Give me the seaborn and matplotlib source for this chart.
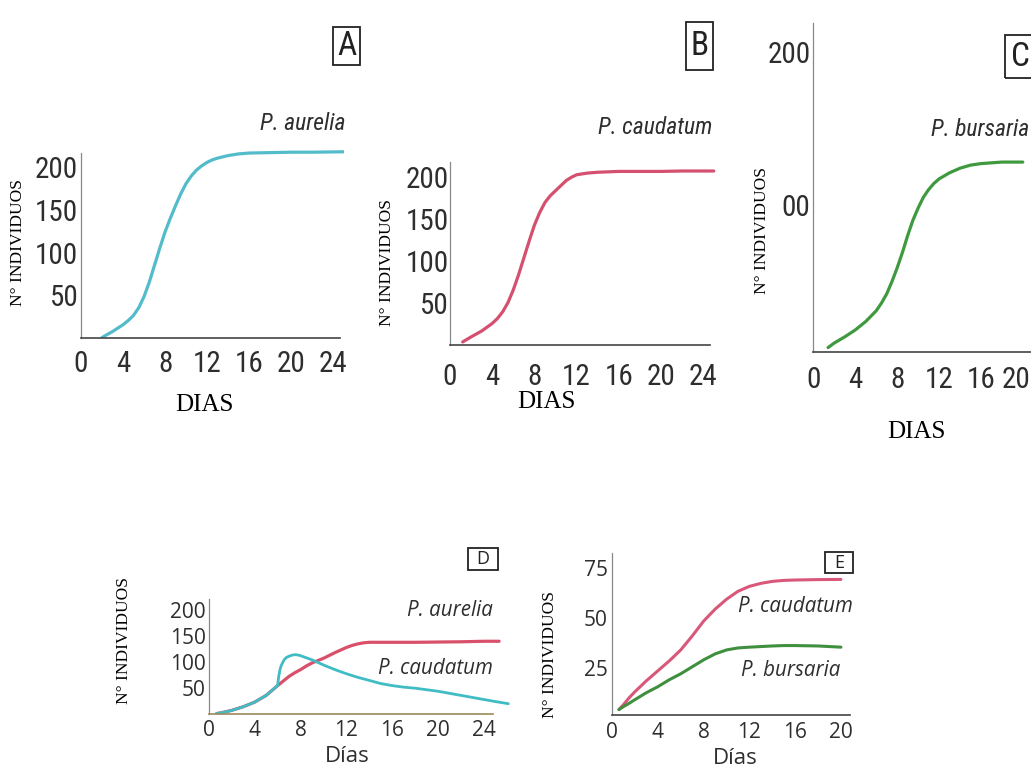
import matplotlib
matplotlib.use("Agg")
import matplotlib.pyplot as plt
from matplotlib import font_manager as fm
from matplotlib.patches import Rectangle
from matplotlib.transforms import offset_copy
import seaborn as sns

W, H = 1031, 771

# A: P. aurelia sola
dias_a = [2, 3, 4, 4.5, 5, 5.5, 6, 6.5, 7, 7.5, 8, 8.5, 9, 9.5, 10, 10.5, 11, 11.5, 12, 12.5, 13, 14, 15,
          16, 18, 20, 22, 25]
aurelia_a = [0, 7, 15, 20, 26, 35, 48, 65, 85, 105, 124, 140, 155, 169, 181, 190, 197, 202, 206, 209, 211,
             214, 216, 217, 217.5, 218, 218, 218.5]

# B: P. caudatum sola
dias_b = [1.2, 2, 3, 4, 4.5, 5, 5.5, 6, 6.5, 7, 7.5, 8, 8.5, 9, 9.5, 10, 10.5, 11, 11.5, 12, 13, 14, 16,
          18, 20, 22, 25]
caudatum_b = [4, 10, 17, 26, 32, 40, 51, 66, 84, 104, 124, 143, 158, 170, 178, 184, 190, 196, 200, 203, 205,
              206, 207, 207, 207, 207.5, 207.5]

# C: P. bursaria sola
dias_c = [1.4, 2, 3, 4, 5, 6, 6.5, 7, 7.5, 8, 8.5, 9, 9.5, 10, 10.5, 11, 11.5, 12, 13, 14, 15, 16, 18, 20]
bursaria_c = [7, 10, 14, 18.5, 24, 31, 36, 42, 50, 59, 69, 80, 90, 98, 105, 110, 114, 117, 121, 124, 126, 127,
              128, 128]

# D: P. aurelia + P. caudatum juntas
dias_d_aur = [0.7, 1, 2, 3, 4, 5, 6, 6.5, 7, 7.5, 8, 8.5, 9, 10, 11, 12, 12.5, 13, 13.5, 14, 16, 18, 20, 22,
              24, 25.3]
aurelia_d = [0, 1, 6, 13, 22, 35, 54, 63, 72, 79, 85, 92, 98, 107, 118, 128, 132, 135, 137, 138, 138, 138,
             138.5, 139, 140, 140]
dias_d_cau = [0.7, 1, 2, 3, 4, 5, 6, 6.1, 6.2, 6.3, 6.45, 6.6, 6.8, 7, 7.25, 7.5, 7.75, 8, 8.5, 9, 10, 11, 12,
              13, 14, 15, 16, 17, 18, 19, 20, 21, 22, 23, 24, 25, 26.1]
caudatum_d = [0, 1, 6, 13, 22, 35, 54, 72, 84, 92, 99, 105, 109, 111, 113, 114, 113.5, 112, 108, 104, 94, 85,
              77, 70, 64, 58, 54, 51, 49, 46, 43, 39, 35, 31, 27, 23, 19]

# E: P. caudatum + P. bursaria juntas
dias_e = [0.6, 1, 1.5, 2, 3, 4, 5, 6, 7, 8, 9, 10, 11, 12, 13, 14, 15, 16, 18, 20]
caudatum_e = [4, 6.5, 10, 13, 18.5, 23.5, 28.5, 34, 41, 48.5, 54.5, 59.5, 63.5, 66, 67.5, 68.5, 69, 69.2,
              69.4, 69.5]
bursaria_e = [4, 5.5, 7.2, 9, 12.5, 15.5, 19, 22, 25.5, 29, 32, 34, 35, 35.4, 35.7, 36, 36.2, 36.2, 36, 35.4]

# ejes
xticks_24 = [0, 2, 4, 6, 8, 10, 12, 14, 16, 18, 20, 22, 24]
xlabels_24 = ["0", "", "4", "", "8", "", "12", "", "16", "", "20", "", "24"]
xticks_20 = [0, 2, 4, 6, 8, 10, 12, 14, 16, 18, 20]
xlabels_20 = ["0", "", "4", "", "8", "", "12", "", "16", "", "20"]
yticks_200 = [50, 100, 150, 200]
ylabels_200 = ["50", "100", "150", "200"]
ylabels_c = ["", "00", "", "200"]
yticks_75 = [25, 50, 75]
ylabels_75 = ["25", "50", "75"]

sns.set_style("white")

# fuente estrecha para los graficos de arriba (la que haya instalada)
_fonts = fm.fontManager.ttflist
_names = {f.name for f in _fonts}
NARROW = None
for n in ["Liberation Sans Narrow", "Roboto Condensed", "Open Sans Condensed", "Noto Sans Condensed",
          "DejaVu Sans Condensed"]:
    if n in _names:
        NARROW = dict(fontfamily=[n, "DejaVu Sans"])
        break
if NARROW is None:
    cond = [f for f in _fonts if f.stretch in ("condensed", "semi-condensed", "extra-condensed")
            and "Sans" in f.name and "Mono" not in f.name and "CJK" not in f.name]
    if cond:
        NARROW = dict(fontfamily=[cond[0].name, "DejaVu Sans"], fontstretch=cond[0].stretch)
if NARROW is None:
    NARROW = dict(fontfamily=["Liberation Sans", "DejaVu Sans"])
    NS = 0.85
else:
    NS = 1.0

plt.rcParams["font.family"] = ["Liberation Sans", "DejaVu Sans"]
SANS = ["Open Sans", "DejaVu Sans"]
SERIF = ["Liberation Serif", "DejaVu Serif"]
INK = "#2e2e2e"

fig = plt.figure(figsize=(W / 100, H / 100), dpi=100)


def panel(x0, y0, sx, sy, xlim, ylim):
    l = x0 + xlim[0] * sx
    r = x0 + xlim[1] * sx
    b = y0 - ylim[0] * sy
    t = y0 - ylim[1] * sy
    ax = fig.add_axes([l / W, 1 - b / H, (r - l) / W, (b - t) / H])
    ax.set_xlim(*xlim)
    ax.set_ylim(*ylim)
    ax.patch.set_alpha(0)
    sns.despine(ax=ax)
    return ax


def style_axes(ax, xt, xl, yt, yl, font, size, xpad, ypad, xbound, ybound, spine_col="#444444"):
    ax.set_xticks(xt, xl, fontsize=size, color=INK, **font)
    ax.set_yticks(yt, yl, fontsize=size, color=INK, **font)
    ax.tick_params(axis="x", direction="in", length=5, width=1.3, pad=xpad, color="#222222")
    ax.tick_params(axis="y", direction="in", length=4, width=1.3, pad=ypad, color="#222222")
    ax.spines["bottom"].set_bounds(*xbound)
    ax.spines["left"].set_bounds(*ybound)
    ax.spines["bottom"].set_color(spine_col)
    ax.spines["left"].set_color("#888888")
    ax.spines["bottom"].set_linewidth(1.2)
    ax.spines["left"].set_linewidth(0.9)
    ax.set_xlabel("")
    ax.set_ylabel("")


def ftext(x, y, s, **kw):
    fig.text(x / W, 1 - y / H, s, **kw)


def box(x1, y1, x2, y2, letter, font, size):
    fig.add_artist(Rectangle((x1 / W, 1 - y2 / H), (x2 - x1) / W, (y2 - y1) / H,
                             transform=fig.transFigure, fill=False, ec="#222222", lw=1.3))
    ftext((x1 + x2) / 2, (y1 + y2) / 2, letter, ha="center", va="center",
          fontsize=size, color="#222222", **font)


# A
ax = panel(81, 337.5, 10.5, 0.85, (0, 25), (0, 222))
sns.lineplot(x=dias_a, y=aurelia_a, ax=ax, color="#52bccb", linewidth=2.3)
style_axes(ax, xticks_24, xlabels_24, yticks_200, ylabels_200, NARROW, 21 * NS, 9, 2, (0, 24.7), (0, 217))

# B
ax = panel(450, 345.3, 10.55, 0.84, (0, 25.2), (0, 220))
sns.lineplot(x=dias_b, y=caudatum_b, ax=ax, color="#d4506e", linewidth=2.3)
style_axes(ax, xticks_24, xlabels_24, yticks_200, ylabels_200, NARROW, 21 * NS, 13, 1, (0, 24.6), (0, 218))

# C
ax = panel(813.4, 358.3, 10.47, 1.533, (0, 23), (4, 222))
sns.lineplot(x=dias_c, y=bursaria_c, ax=ax, color="#3f9a3f", linewidth=2.3)
style_axes(ax, xticks_20 + [22], xlabels_20 + [""], yticks_200, ylabels_c, NARROW, 21 * NS, 10, 2,
           (0, 23), (4, 219))
lab20 = ax.get_xticklabels()[10]
lab20.set_horizontalalignment("right")
lab20.set_transform(offset_copy(lab20.get_transform(), fig=fig, x=8, y=0, units="dots"))

# D
ax = panel(208.7, 713.5, 11.48, 0.516, (0, 26.3), (0, 225))
sns.lineplot(x=dias_d_aur, y=aurelia_d, ax=ax, color="#d9506a", linewidth=2.3)
sns.lineplot(x=dias_d_cau, y=caudatum_d, ax=ax, color="#3fbcc4", linewidth=2.0)
style_axes(ax, xticks_24, xlabels_24, yticks_200, ylabels_200, dict(fontfamily=SANS), 15, 5, 2,
           (0, 24.8), (0, 221), spine_col="#9a8a5a")

# E
ax = panel(612.1, 717.5, 11.44, 1.987, (0, 21), (1.2, 85))
sns.lineplot(x=dias_e, y=caudatum_e, ax=ax, color="#d9587a", linewidth=2.2)
sns.lineplot(x=dias_e, y=bursaria_e, ax=ax, color="#3f8f3f", linewidth=2.2)
style_axes(ax, xticks_20, xlabels_20, yticks_75, ylabels_75, dict(fontfamily=SANS), 15, 5, 3,
           (0, 20.8), (1.2, 83))

# nombres de especies
ftext(345, 124, "P. aurelia", ha="right", va="center", style="italic", fontsize=17 * NS, color=INK, **NARROW)
ftext(712, 128, "P. caudatum", ha="right", va="center", style="italic", fontsize=17 * NS, color=INK, **NARROW)
ftext(1029, 130, "P. bursaria", ha="right", va="center", style="italic", fontsize=17 * NS, color=INK, **NARROW)
ftext(493, 611, "P. aurelia", ha="right", va="center", fontfamily=SANS, style="italic", fontsize=14.8, color=INK)
ftext(493, 668, "P. caudatum", ha="right", va="center", fontfamily=SANS, style="italic", fontsize=14.8, color=INK)
ftext(738, 607, "P. caudatum", ha="left", va="center", fontfamily=SANS, style="italic", fontsize=14.8, color=INK)
ftext(741, 671, "P. bursaria", ha="left", va="center", fontfamily=SANS, style="italic", fontsize=14.8, color=INK)

# titulos de ejes
for x, y in [(204, 405), (546, 402), (916, 432)]:
    ftext(x, y, "DIAS", ha="center", va="center", fontfamily=SERIF, fontsize=18, color="black")
for x, y in [(347, 757), (735, 758)]:
    ftext(x, y, "Días", ha="center", va="center", fontfamily=SANS, fontsize=16, color=INK)
for x, y in [(18, 243), (387, 262), (762, 230), (124, 641), (550, 655)]:
    ftext(x, y, "N° INDIVIDUOS", ha="center", va="center", rotation=90,
          fontfamily=SERIF, fontsize=12.5, color="black")

# letras de los paneles
box(333, 27, 360, 65, "A", NARROW, 24 * NS)
box(686, 22, 713, 70, "B", NARROW, 24 * NS)
box(1005, 35, 1036, 78, "C", NARROW, 24 * NS)
box(468, 548, 498, 570, "D", dict(fontfamily=SANS), 13)
box(825, 552, 853, 573, "E", dict(fontfamily=SANS), 13)

fig.savefig("out.png", dpi=100)
